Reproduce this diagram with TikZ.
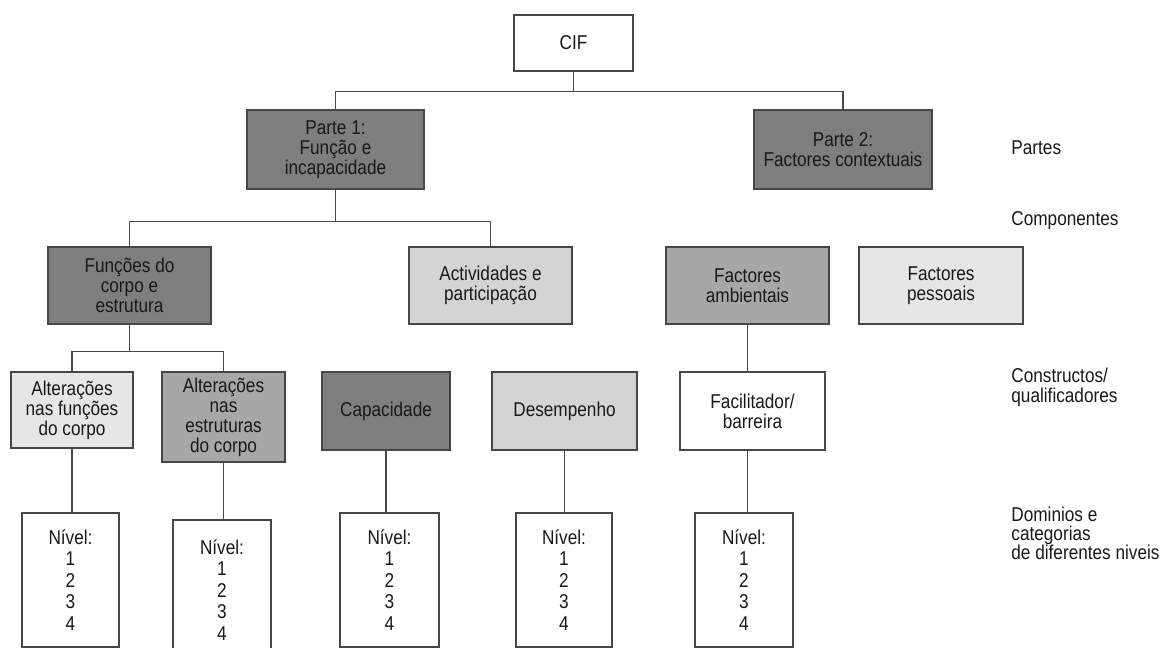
\documentclass[tikz,border=0pt]{standalone}
\usepackage{fontspec}
\setmainfont{Liberation Sans}[FakeStretch=0.86]
\begin{document}
\begin{tikzpicture}[x=0.5pt, y=-0.5pt, font=\fontsize{10}{10}\selectfont,
    caixa/.style={draw=black!72, line width=0.7pt, align=center, inner sep=0pt, text=black!90},
    nivel/.style={caixa, fill=white, font=\fontsize{10}{10.8}\selectfont},
    ligacao/.style={draw=black!72, line width=0.65pt},
    rotulo/.style={anchor=west, align=left, inner sep=0pt, text=black!90}]
    % --- Cores ---
    \definecolor{cinzaesc}{HTML}{7E7E7E}  \definecolor{cinzamed}{HTML}{A7A7A7}
    \definecolor{cinzaclaro}{HTML}{D4D4D4}\definecolor{cinzatenue}{HTML}{E6E6E6}

    \useasboundingbox (0,0) rectangle (1163,648);
    \clip (0,0) rectangle (1163,648);

    % --- Raiz ---
    \node[caixa, fill=white, minimum width=59.5pt, minimum height=28pt] (cif) at (573.5,43) {CIF};

    % --- Partes ---
    \node[caixa, fill=cinzaesc, minimum width=88.5pt, minimum height=39.5pt] (p1) at (335.5,149.5)
        {Parte 1:\\Função e\\incapacidade};
    \node[caixa, fill=cinzaesc, minimum width=89pt, minimum height=39.5pt] (p2) at (843,149.5)
        {Parte 2:\\Factores contextuais};

    % --- Componentes ---
    \node[caixa, fill=cinzaesc, minimum width=81.5pt, minimum height=38.5pt] (funcoes) at (129.5,285.5)
        {Funções do\\corpo e\\estrutura};
    \node[caixa, fill=cinzaclaro, minimum width=81.5pt, minimum height=38.5pt] (activ) at (490.5,285.5)
        {Actividades e\\participação};
    \node[caixa, fill=cinzamed, minimum width=81.5pt, minimum height=38.5pt] (ambient) at (747.5,285.5)
        {Factores\\ambientais};
    \node[caixa, fill=cinzatenue, minimum width=82pt, minimum height=38.5pt] (pessoais) at (941,285.5)
        {Factores\\pessoais};

    % --- Constructos / qualificadores ---
    \node[caixa, fill=cinzatenue, minimum width=61pt, minimum height=38pt] (alt1) at (72,410)
        {Alterações\\nas funções\\do corpo};
    \node[caixa, fill=cinzamed, minimum width=61.5pt, minimum height=45pt] (alt2) at (223.5,417)
        {Alterações\\nas\\estruturas\\do corpo};
    \node[caixa, fill=cinzaesc, minimum width=64pt, minimum height=39pt] (capac) at (386,411) {Capacidade};
    \node[caixa, fill=cinzaclaro, minimum width=72.5pt, minimum height=39pt] (desemp) at (564.5,411) {Desempenho};
    \node[caixa, fill=white, minimum width=72.5pt, minimum height=39pt] (facil) at (752.5,411)
        {Facilitador/\\barreira};

    % --- Niveis ---
    \foreach \nome/\x/\y/\w/\h in {n1/70.5/580/48.5/67, n2/222/590/49/70, n3/389.5/580/49.5/67,
                                   n4/564/580/48/67, n5/744/580/49/67} {
        \node[nivel, minimum width=\w pt, minimum height=\h pt] (\nome) at (\x,\y) {Nível:\\1\\2\\3\\4};
    }

    % --- Ligacoes ---
    \draw[ligacao] (cif.south) -- ++(0,20) coordinate (barra1);
    \draw[ligacao] (barra1) -| (p1.north);
    \draw[ligacao] (barra1) -| (p2.north);
    \draw[ligacao] (p1.south) -- ++(0,32) coordinate (barra2);
    \draw[ligacao] (barra2) -| (funcoes.north);
    \draw[ligacao] (barra2) -| (activ.north);
    \draw[ligacao] (funcoes.south) -- ++(0,27) coordinate (barra3);
    \draw[ligacao] (barra3) -| (alt1.north);
    \draw[ligacao] (barra3) -| (alt2.north);
    \draw[ligacao] (ambient.south) -- (ambient.south |- facil.north);
    \foreach \a/\b in {alt1/n1, alt2/n2, capac/n3, desemp/n4} {
        \draw[ligacao] (\a.south) -- (\a.south |- \b.north);
    }
    \draw[ligacao] (facil.south -| ambient.south) -- (ambient.south |- n5.north);

    % --- Rotulos dos niveis ---
    \node[rotulo] (lpartes) at (1011,148) {Partes};
    \node[rotulo] (lcomp) at (1011,221) {Componentes};
    \node[rotulo] (lconstr) at (1011,387) {Constructos/\\qualificadores};
    \node[rotulo, font=\fontsize{10}{9.5}\selectfont] (ldom) at (1011,533) {Dominios e\\categorias\\de diferentes niveis};
\end{tikzpicture}
\end{document}
